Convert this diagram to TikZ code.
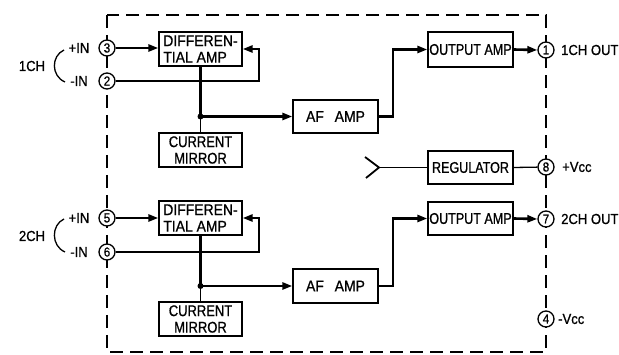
\documentclass[tikz,border=0pt]{standalone}
\usepackage{fontspec}
\setmainfont{Liberation Sans}[FakeStretch=0.9,UprightFeatures={FakeBold=0.9}]
\usetikzlibrary{arrows.meta}
\begin{document}
\begin{tikzpicture}[x=1pt,y=-1pt,
  blk/.style={draw, line width=1.3pt, minimum width=83pt, minimum height=34pt, inner sep=0pt, align=center, font=\fontsize{15.5}{16.5}\selectfont},
  pin/.style={circle, draw, fill=white, line width=1.3pt, minimum size=16pt, inner sep=0pt, font=\fontsize{13}{13}\selectfont},
  sig/.style={line width=2.6pt},
  thin/.style={line width=1.3pt},
  arr/.style={-{Triangle[length=10pt,width=7pt]}},
  lbl/.style={font=\fontsize{14.5}{14.5}\selectfont, inner sep=0pt},
  border/.style={line width=1.8pt, dash pattern=on 13pt off 7pt}]
\useasboundingbox (0,0) rectangle (619,355);
\fill[white] (0,0) rectangle (619,355);
% package border
\draw[border] (107,15) rectangle (546,352);
% pins
\node[pin] (p3) at (107,48) {3};
\node[pin] (p2) at (107,81) {2};
\node[pin] (p5) at (107,218) {5};
\node[pin] (p6) at (107,252) {6};
\node[pin] (p1) at (546,50) {1};
\node[pin] (p8) at (546,167) {8};
\node[pin] (p7) at (546,219) {7};
\node[pin] (p4) at (546,319) {4};
% blocks channel 1
\node[blk, align=left] (da1) at (200.5,49) {DIFFEREN-\\TIAL AMP};
\node[blk] (cm1) at (200.5,150) {\scalebox{0.93}[1]{CURRENT}\\\scalebox{0.93}[1]{MIRROR}};
\node[blk, minimum width=85pt, minimum height=33pt] (af1) at (335.5,116.5) {AF\hspace{0.7em}AMP};
\node[blk, minimum width=85pt, minimum height=35pt] (oa1) at (470.5,49.5) {\scalebox{0.9}[1]{OUTPUT AMP}};
\node[blk, minimum width=85pt, minimum height=33pt] (reg) at (470.5,167.5) {\scalebox{0.9}[1]{REGULATOR}};
% blocks channel 2
\node[blk, align=left] (da2) at (200.5,218) {DIFFEREN-\\TIAL AMP};
\node[blk] (cm2) at (200.5,319) {\scalebox{0.93}[1]{CURRENT}\\\scalebox{0.93}[1]{MIRROR}};
\node[blk, minimum width=85pt, minimum height=34pt] (af2) at (335.5,286) {AF\hspace{0.7em}AMP};
\node[blk, minimum width=85pt, minimum height=33pt] (oa2) at (470.5,218.5) {\scalebox{0.9}[1]{OUTPUT AMP}};
% helper coordinates
\coordinate (fb1) at (259,81);
\coordinate (fb2) at (259,252);
\coordinate (j1) at (200.5,116.5);
\coordinate (j2) at (200.5,286);
\coordinate (k1) at (393,116.5);
\coordinate (k2) at (393,286);
\coordinate (w) at (379,167.5);
\coordinate (wa) at (365,157);
\coordinate (wb) at (366,178);
% channel 1 connections
\draw[sig,arr] (p3) -- (p3 -| da1.west);
\draw[sig,arr] (p2) -- (fb1) |- (da1.east);
\draw[sig] (da1.south) -- (j1);
\draw[thin] (j1) -- (cm1.north);
\fill (j1) circle (3pt);
\draw[sig,arr] (j1) -- (af1.west);
\draw[sig,arr] (af1.east) -- (k1) |- (oa1.west);
\draw[sig,arr] (oa1.east) -- (p1.west);
% regulator
\draw[thin] (w) -- (reg.west);
\draw[line width=1.8pt] (wa) -- (w) -- (wb);
\draw[thin] (reg.east) -- (p8);
% channel 2 connections
\draw[sig,arr] (p5) -- (p5 -| da2.west);
\draw[sig,arr] (p6) -- (fb2) |- (da2.east);
\draw[sig] (da2.south) -- (j2);
\draw[thin] (j2) -- (cm2.north);
\fill (j2) circle (3pt);
\draw[sig,arr] (j2) -- (af2.west);
\draw[sig,arr] (af2.east) -- (k2) |- (oa2.west);
\draw[sig,arr] (oa2.east) -- (p7.west);
% input labels
\node[lbl] (in3) at (79,48) {+IN};
\node[lbl] (in2) at (79,81) {-IN};
\node[lbl] (ch1) at (32,66) {1CH};
\draw[thin] (64,50) .. controls (51,56) and (51,76) .. (65,82);
\node[lbl] (in5) at (79,218) {+IN};
\node[lbl] (in6) at (79,252) {-IN};
\node[lbl] (ch2) at (32,236) {2CH};
\draw[thin] (64,219) .. controls (51,225) and (51,246) .. (65,252);
% output labels
\node[lbl, anchor=west] (o1) at (561,50) {1CH OUT};
\node[lbl, anchor=west] (o8) at (562,167) {+Vcc};
\node[lbl, anchor=west] (o7) at (561,219) {2CH OUT};
\node[lbl, anchor=west] (o4) at (558,319) {-Vcc};
\end{tikzpicture}
\end{document}
